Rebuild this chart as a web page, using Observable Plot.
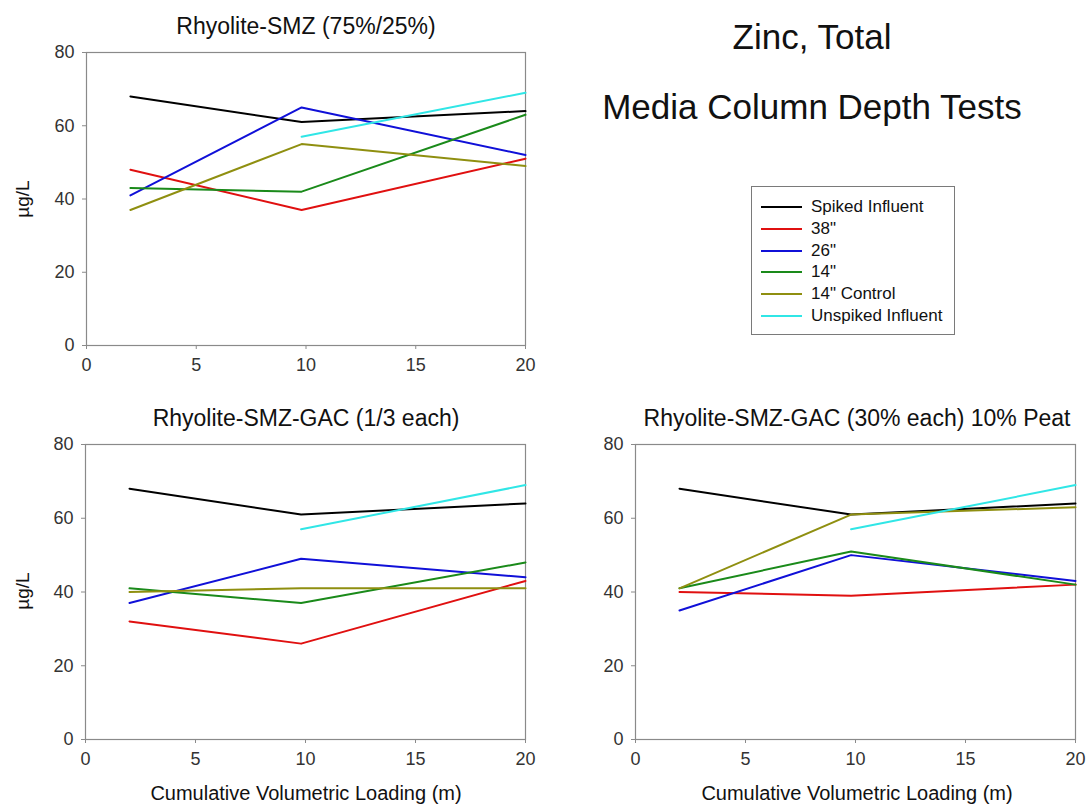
<!DOCTYPE html>
<html>
<head>
<meta charset="utf-8">
<script src="https://cdn.jsdelivr.net/npm/d3@7"></script>
<script src="https://cdn.jsdelivr.net/npm/@observablehq/plot@0.6"></script>
<style>
  body { margin: 0; background: #fff; font-family: "Liberation Sans", Arial, sans-serif; }
  #root { position: relative; width: 1086px; height: 807px; overflow: hidden; }
  .abs { position: absolute; }
  svg.abs text { font-size: 18px; font-family: "Liberation Sans", Arial, sans-serif; fill: #333; }
  .ptitle { position: absolute; font-size: 23px; color: #111; white-space: nowrap; transform: translate(-50%, -50%); }
  .xlabel { position: absolute; font-size: 20px; color: #111; white-space: nowrap; transform: translate(-50%, -50%); }
  .ylabel { position: absolute; font-size: 19px; color: #111; white-space: nowrap; transform: translate(-50%, -50%) rotate(-90deg); }
  .big { position: absolute; font-size: 35px; color: #111; white-space: nowrap; transform: translate(-50%, -50%); }
  #legend { position: absolute; left: 751px; top: 186px; width: 204px; height: 149px; border: 1px solid #7a7a7a; box-sizing: border-box; }
  .lrow { position: absolute; left: 9px; height: 22px; display: flex; align-items: center; font-size: 17px; color: #111; white-space: nowrap; }
  .lrow svg { margin-right: 9px; }
</style>
</head>
<body>
<div id="root"></div>
<script>
// ---- data ----
const loading = [2, 9.8, 20];
const seriesNames = ["Spiked Influent", "38\"", "26\"", "14\"", "14\" Control", "Unspiked Influent"];
const seriesColors = ["#000000", "#e01010", "#1010d8", "#1a8a1a", "#8f8f10", "#30e6e6"];
const xTicks = [0, 5, 10, 15, 20];
const yTicks = [0, 20, 40, 60, 80];

// Rhyolite-SMZ (75%/25%)
const smzSpiked    = [68, 61, 64];
const smz38        = [48, 37, 51];
const smz26        = [41, 65, 52];
const smz14        = [43, 42, 63];
const smz14Control = [37, 55, 49];
const smzUnspiked  = [null, 57, 69];

// Rhyolite-SMZ-GAC (1/3 each)
const gacSpiked    = [68, 61, 64];
const gac38        = [32, 26, 43];
const gac26        = [37, 49, 44];
const gac14        = [41, 37, 48];
const gac14Control = [40, 41, 41];
const gacUnspiked  = [null, 57, 69];

// Rhyolite-SMZ-GAC (30% each) 10% Peat
const peatSpiked    = [68, 61, 64];
const peat38        = [40, 39, 42];
const peat26        = [35, 50, 43];
const peat14        = [41, 51, 42];
const peat14Control = [41, 61, 63];
const peatUnspiked  = [null, 57, 69];

const root = document.getElementById("root");

function toRows(arrays) {
  const rows = [];
  arrays.forEach((vals, si) => {
    vals.forEach((v, i) => {
      if (v != null) rows.push({series: seriesNames[si], x: loading[i], y: v});
    });
  });
  return rows;
}

function panel(arrays, box) {
  const rows = toRows(arrays);
  const chart = Plot.plot({
    width: box.width,
    height: box.height,
    marginLeft: box.ml, marginRight: box.mr, marginTop: box.mt, marginBottom: box.mb,
    style: {fontFamily: "Liberation Sans, Arial, sans-serif", fontSize: "18px", color: "#333", background: "transparent"},
    x: {domain: [0, 20], ticks: xTicks},
    y: {domain: [0, 80], ticks: yTicks},
    color: {domain: seriesNames, range: seriesColors},
    marks: [
      Plot.frame({stroke: "#8a8a8a", strokeWidth: 1.2}),
      Plot.axisX({ticks: xTicks, tickSize: 4, tickPadding: 9, label: null, stroke: "#8a8a8a", fontSize: 18}),
      Plot.axisY({ticks: yTicks, tickSize: 4, tickPadding: 8, label: null, stroke: "#8a8a8a", fontSize: 18}),
      Plot.line(rows, {x: "x", y: "y", z: "series", stroke: "series", strokeWidth: 2, curve: "linear"})
    ]
  });
  chart.classList.add("abs");
  chart.style.left = box.left + "px";
  chart.style.top = box.top + "px";
  root.appendChild(chart);
}

panel([smzSpiked, smz38, smz26, smz14, smz14Control, smzUnspiked],
  {left: 0, top: 0, width: 545, height: 390, ml: 86, mr: 20, mt: 52, mb: 45});
panel([gacSpiked, gac38, gac26, gac14, gac14Control, gacUnspiked],
  {left: 0, top: 390, width: 545, height: 417, ml: 85, mr: 20, mt: 54, mb: 68});
panel([peatSpiked, peat38, peat26, peat14, peat14Control, peatUnspiked],
  {left: 545, top: 390, width: 541, height: 417, ml: 90, mr: 11, mt: 54, mb: 68});

function addText(cls, txt, x, y) {
  const d = document.createElement("div");
  d.className = cls;
  d.textContent = txt;
  d.style.left = x + "px";
  d.style.top = y + "px";
  root.appendChild(d);
}
addText("ptitle", "Rhyolite-SMZ (75%/25%)", 306, 26);
addText("ptitle", "Rhyolite-SMZ-GAC (1/3 each)", 306, 418);
addText("ptitle", "Rhyolite-SMZ-GAC (30% each) 10% Peat", 857, 418);
addText("ylabel", "\u00b5g/L", 23, 199);
addText("ylabel", "\u00b5g/L", 23, 591);
addText("xlabel", "Cumulative Volumetric Loading (m)", 306, 793);
addText("xlabel", "Cumulative Volumetric Loading (m)", 857, 793);
addText("big", "Zinc, Total", 812, 37);
addText("big", "Media Column Depth Tests", 812, 107);

// legend
const lg = document.createElement("div");
lg.id = "legend";
const rowTops = [9, 31, 53, 74, 96, 118];
seriesNames.forEach((name, i) => {
  const r = document.createElement("div");
  r.className = "lrow";
  r.style.top = rowTops[i] + "px";
  r.innerHTML = `<svg width="41" height="4"><line x1="0" y1="2" x2="41" y2="2" stroke="${seriesColors[i]}" stroke-width="2"/></svg>`;
  const s = document.createElement("span");
  s.textContent = name;
  r.appendChild(s);
  lg.appendChild(r);
});
root.appendChild(lg);
</script>
</body>
</html>
